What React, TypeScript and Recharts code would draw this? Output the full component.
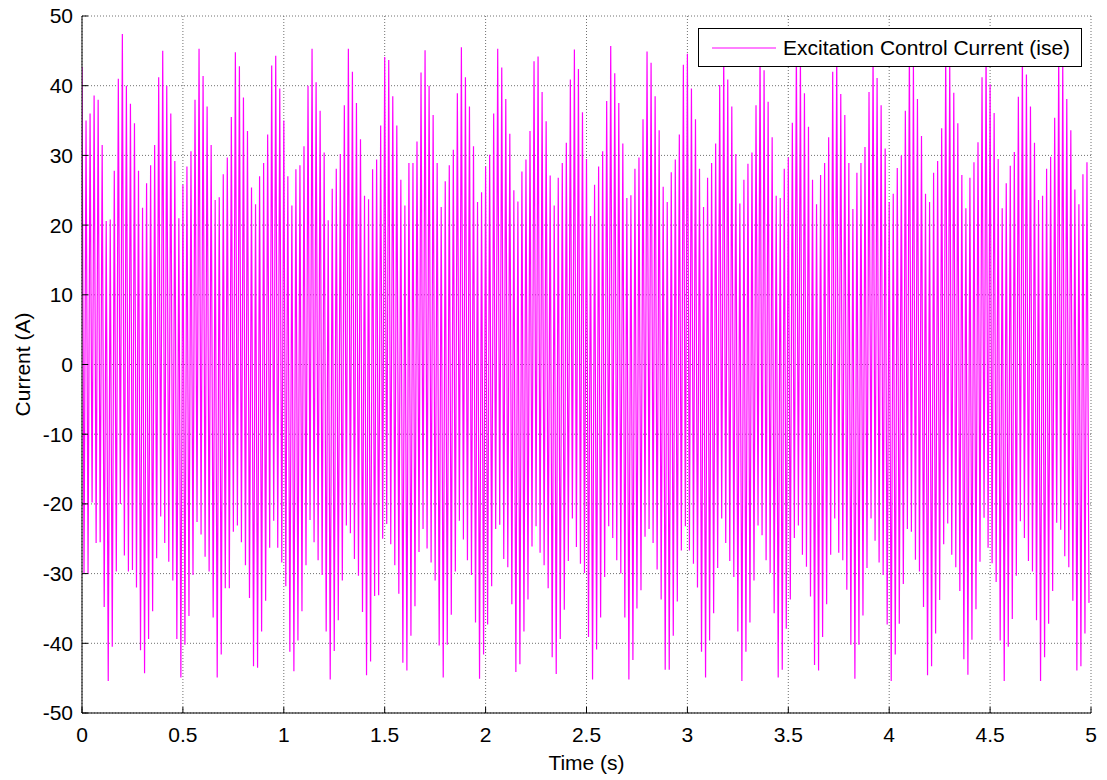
import { CartesianGrid, Legend, Line, LineChart, XAxis, YAxis } from "recharts"

// one positive and one negative peak per 50 Hz cycle (0.02 s)
const CYCLE = 0.02

const peakTops = [
  42.7, 35, 36, 38.6, 38, 31.5, 20.6, 20.8, 27.8, 41,
  47.4, 40, 37.4, 34.6, 27.8, 22.5, 26, 28.6, 31.5, 41.2,
  45, 40, 36, 29.2, 21, 25.8, 28.4, 30.6, 38, 45.3,
  41.4, 37, 31.5, 23.6, 24, 27.3, 29.7, 35.5, 44.8, 42.8,
  38.3, 33.5, 25.4, 23, 27, 28.9, 33, 42.9, 44.3, 39.6,
  35, 27, 22.8, 28, 28.6, 31.3, 40, 45.3, 40.5, 36.4,
  30.4, 20.7, 25.2, 28.1, 30.2, 37.2, 45.3, 42, 37.5, 32.3,
  24.2, 23.7, 28, 29.4, 34.3, 44.1, 43.7, 38.5, 34.3, 26.5,
  22.8, 28.9, 28.9, 32, 41.9, 45.1, 40, 35.8, 28.9, 22.6,
  26.3, 28.6, 30.8, 38.9, 45.5, 41.2, 37, 31.3, 23.3, 24.7,
  28.4, 30.1, 36, 45.3, 42.6, 38.1, 33.1, 25, 23.4, 27.7,
  29.4, 33.5, 43.5, 44.2, 39.1, 34.9, 27.1, 22.8, 26.8, 28.9,
  31.8, 40.9, 45.2, 42.4, 36.2, 29.5, 21.3, 25.8, 28.4, 30.6,
  37.8, 45.7, 41.8, 37.5, 31.7, 23.9, 24.3, 28.1, 29.7, 35.2,
  44.9, 43.3, 38.5, 33.6, 25.5, 23.3, 27.6, 29.4, 33, 43,
  44.6, 39.6, 35.2, 28.1, 22.6, 26.8, 28.9, 31.7, 40.1, 45,
  40.9, 37, 30.2, 23.1, 26.5, 28.8, 30.4, 37.2, 45.5, 42.2,
  37.7, 32.6, 24.2, 23.9, 28.1, 29.7, 34.7, 46, 44, 38.9,
  34.1, 26.5, 23, 27.2, 28.9, 32.6, 42, 45, 38.8, 35.8,
  28.9, 22.3, 27.5, 28.9, 31.2, 39.1, 45, 41.1, 37.2, 31,
  23.3, 24.5, 28.2, 30, 36.4, 45.5, 43, 38.1, 32.8, 24.5,
  23.3, 27.5, 29.2, 33.9, 45, 43.5, 39, 34.6, 27.2, 22.4,
  26.8, 29, 31.9, 41.2, 45.5, 40.2, 36.1, 29.5, 22.4, 26,
  28.5, 30.5, 38.4, 45, 41.6, 37, 31.8, 23.6, 24.2, 28.1,
  29.8, 35.4, 45, 43.5, 38.1, 33.6, 25.1, 23, 27.3, 29,
]

const peakBottoms = [
  -29.9, -30, -19.8, -25.6, -25.5, -34.8, -45.4, -40.5, -29.7, -20,
  -27.4, -29.7, -29.5, -32, -41, -44.3, -39.4, -35.4, -27.8, -21.8,
  -25.6, -28.3, -31, -39.4, -44.9, -40.2, -36.1, -30.2, -22.6, -24.4,
  -27.6, -29.7, -36.3, -44.9, -41.6, -32.1, -32.1, -24, -23.1, -25.5,
  -28.8, -33.5, -43.3, -43.5, -38.3, -33.9, -26.3, -22.4, -26.3, -28.4,
  -31.8, -41.2, -44, -39.6, -35.4, -28.8, -22.3, -25.5, -28.1, -30.2,
  -38.3, -45.2, -41.1, -36.7, -31, -23.1, -24.2, -27.9, -30.3, -35.5,
  -44.6, -42.6, -33.2, -33.1, -25, -22.9, -25.8, -28.8, -32.9, -42.8,
  -43.9, -38.9, -34.7, -26.9, -23.6, -26.4, -28.4, -31, -40.3, -44.9,
  -40.2, -35.9, -29.7, -22.4, -25.1, -28.1, -30.2, -37, -45.1, -41.6,
  -37.3, -31.8, -23.6, -23, -27.9, -29.1, -34.4, -44.1, -43, -38.3,
  -33.7, -26.1, -23.2, -27, -28.8, -32.1, -42, -44.4, -39.4, -35.2,
  -28.2, -22.1, -26.2, -28.6, -29.9, -39.1, -45.2, -40.9, -36.3, -30.5,
  -23.2, -24.9, -28.1, -30, -36.3, -45.2, -42.4, -35, -32.4, -24.7,
  -23.6, -25.6, -29.4, -33.7, -43.8, -43.8, -38.9, -34, -26.7, -23.2,
  -26.7, -28.6, -32, -41.2, -44.9, -39.6, -35.7, -29.2, -22.1, -25.6,
  -28.2, -30.5, -38.3, -45.4, -41.2, -37, -31, -23.1, -24.5, -28.1,
  -29.9, -35.7, -44.9, -43.8, -37.9, -33.7, -24.9, -23.1, -27.3, -29,
  -33.3, -43.1, -43.9, -39.1, -34.4, -27.3, -22.1, -27, -28.1, -32.3,
  -40.2, -45.1, -40.2, -36, -29.2, -22.1, -25.3, -28.4, -30.2, -37.3,
  -45.4, -41.6, -37.2, -31.5, -23.6, -24, -28, -29.7, -34.8, -44.6,
  -43.3, -38.6, -33.8, -25.8, -22.8, -27.3, -29.1, -32.5, -42.3, -44.5,
  -39.5, -35.1, -28.3, -22, -26.3, -28.5, -31.2, -39.6, -45.4, -40.5,
  -36.5, -30.3, -22.5, -24.9, -28.2, -29.7, -36.7, -45.4, -42, -37.2,
  -32.5, -22.7, -23.7, -27.5, -29.1, -33.9, -43.9, -43.3, -38.6, -34.2,
]

const timeTicks = [0, 0.5, 1, 1.5, 2, 2.5, 3, 3.5, 4, 4.5, 5]
const currentTicks = [-50, -40, -30, -20, -10, 0, 10, 20, 30, 40, 50]

const data: { t: number; ise: number }[] = []
peakTops.forEach((top, i) => {
  data.push({ t: +(i * CYCLE).toFixed(3), ise: top })
  data.push({ t: +(i * CYCLE + CYCLE / 2).toFixed(3), ise: peakBottoms[i] })
})

const FONT = "'Liberation Sans', Arial, Helvetica, sans-serif"
const MAGENTA = "#ff00ff"
const tickStyle = { fill: "#000", fontSize: 21, fontFamily: FONT }

function LegendBox() {
  return (
    <div
      style={{
        width: 384,
        height: 39,
        boxSizing: "border-box",
        border: "1px solid #000",
        background: "#fff",
        display: "flex",
        alignItems: "center",
        fontFamily: FONT,
        fontSize: 21,
        color: "#000",
        whiteSpace: "nowrap",
      }}
    >
      <svg width={64} height={4} style={{ marginLeft: 13 }}>
        <line x1={0} y1={2} x2={64} y2={2} stroke={MAGENTA} strokeWidth={1} />
      </svg>
      <span style={{ marginLeft: 7 }}>Excitation Control Current (ise)</span>
    </div>
  )
}

const noLabel = () => null

export default function App() {
  // pulled up over the body margin so the top tick label has room inside the svg
  return (
    <div style={{ width: 1099, height: 778, marginTop: -8, background: "#fff", fontFamily: FONT }}>
      <LineChart
        width={1099}
        height={778}
        data={data}
        margin={{ top: 16, right: 16, bottom: 5, left: 0 }}
      >
        <XAxis
          dataKey="t"
          type="number"
          domain={[0, 5]}
          ticks={timeTicks}
          interval={0}
          allowDataOverflow
          height={60}
          stroke="#000"
          tickSize={-6}
          tickMargin={20}
          tick={tickStyle}
          label={{
            value: "Time (s)",
            position: "insideBottom",
            offset: 3,
            style: { fill: "#000", fontSize: 21, fontFamily: FONT },
          }}
        />
        <XAxis
          xAxisId="top"
          orientation="top"
          type="number"
          domain={[0, 5]}
          ticks={timeTicks}
          interval={0}
          allowDataOverflow
          height={0}
          stroke="#000"
          tickSize={-6}
          tick={noLabel}
        />
        <YAxis
          type="number"
          domain={[-50, 50]}
          ticks={currentTicks}
          interval={0}
          allowDataOverflow
          width={74}
          stroke="#000"
          tickSize={-6}
          tickMargin={15}
          tick={tickStyle}
          label={{
            value: "Current (A)",
            angle: -90,
            position: "insideLeft",
            offset: 15,
            style: { fill: "#000", fontSize: 21, fontFamily: FONT, textAnchor: "middle" },
          }}
        />
        <YAxis
          yAxisId="right"
          orientation="right"
          type="number"
          domain={[-50, 50]}
          ticks={currentTicks}
          interval={0}
          allowDataOverflow
          width={0}
          stroke="#000"
          tickSize={-6}
          tick={noLabel}
        />
        <Line
          type="linear"
          dataKey="ise"
          name="Excitation Control Current (ise)"
          stroke={MAGENTA}
          strokeWidth={1.2}
          dot={false}
          activeDot={false}
          isAnimationActive={false}
        />
        <CartesianGrid stroke="#707070" strokeDasharray="1 2" />
        <Legend
          layout="vertical"
          align="center"
          verticalAlign="middle"
          content={<LegendBox />}
          wrapperStyle={{ top: 28, left: 690, width: 384, height: 39 }}
        />
      </LineChart>
    </div>
  )
}
